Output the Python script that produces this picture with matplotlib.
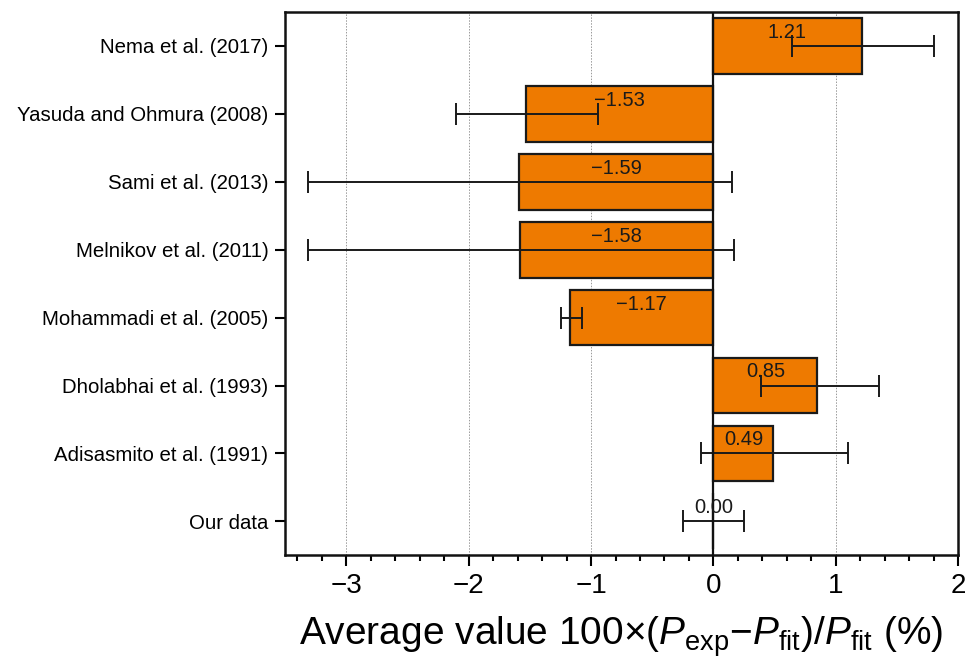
import matplotlib
matplotlib.use("Agg")
import matplotlib.pyplot as plt
from matplotlib.ticker import MultipleLocator
import numpy as np

plt.rcParams['font.family'] = ['Liberation Sans', 'DejaVu Sans']
plt.rcParams['mathtext.fontset'] = 'custom'
plt.rcParams['mathtext.rm'] = 'Liberation Sans'
plt.rcParams['mathtext.it'] = 'Liberation Sans:italic'

studies = ["Our data", "Adisasmito et al. (1991)", "Dholabhai et al. (1993)",
           "Mohammadi et al. (2005)", "Melnikov et al. (2011)", "Sami et al. (2013)",
           "Yasuda and Ohmura (2008)", "Nema et al. (2017)"]
mean_dev = [0.00, 0.49, 0.85, -1.17, -1.58, -1.59, -1.53, 1.21]
err_center = [0.00, 0.50, 0.87, -1.16, -1.57, -1.58, -1.52, 1.22]
err_half = [0.25, 0.60, 0.48, 0.085, 1.74, 1.73, 0.58, 0.58]

fig = plt.figure(figsize=(9.66, 6.69), dpi=100)
ax = fig.add_axes([0.295, 0.170, 0.697, 0.812])

y = np.arange(len(studies))
ax.barh(y, mean_dev, height=0.82, color="#EE7A00", edgecolor="#1a1a1a",
        linewidth=1.6, zorder=2)
ax.errorbar(err_center, y, xerr=err_half, fmt="none", ecolor="#1a1a1a",
            elinewidth=1.4, capsize=8, capthick=1.4, zorder=3)

for yi, v in zip(y, mean_dev):
    ax.text(v / 2, yi + 0.2, f"{v:.2f}".replace("-", "\u2212"), ha="center",
            va="center", fontsize=14.5, color="#1a1a1a", zorder=4)

ax.axvline(0, color="#111111", linewidth=1.6, zorder=3)

ax.set_xlim(-3.5, 2)
ax.set_ylim(-0.5, 7.5)
ax.set_yticks(y)
ax.set_yticklabels(studies, fontsize=14.7)
ax.xaxis.set_minor_locator(MultipleLocator(0.2))
ax.set_xticks([-3, -2, -1, 0, 1, 2])
ax.set_xticklabels(["\u22123", "\u22122", "\u22121", "0", "1", "2"], fontsize=20)

for gx in [-3, -2, -1, 1]:
    ax.axvline(gx, color="#999999", linestyle=(0, (1.5, 1.5)), linewidth=0.7, zorder=1)

ax.tick_params(axis="x", which="major", direction="out", length=8, width=1.5, pad=5)
ax.tick_params(axis="x", which="minor", direction="out", length=4, width=1.5)
ax.tick_params(axis="y", which="major", direction="out", length=7, width=1.5, pad=5)
for s in ax.spines.values():
    s.set_linewidth(1.8)
    s.set_color("#111111")

ax.set_xlabel(r"Average value 100$\times$($P_{\rm exp}$$-$$P_{\rm fit}$)/$P_{\rm fit}$ (%)",
              fontsize=28, labelpad=11)

fig.savefig("out.png", dpi=100)
